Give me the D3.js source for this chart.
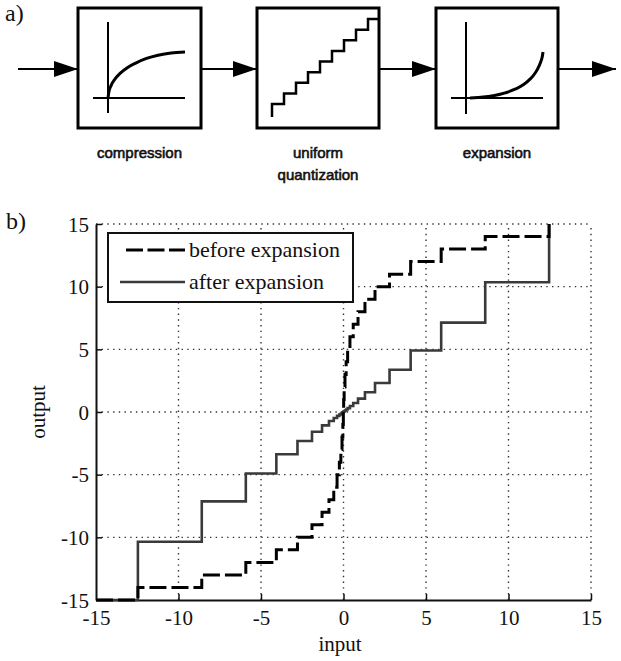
<!DOCTYPE html>
<html>
<head>
<meta charset="utf-8">
<script src="https://cdn.jsdelivr.net/npm/d3@7"></script>
<style>
  html, body { margin: 0; padding: 0; background: #fff; }
  svg { display: block; }
  .serif { font-family: "Liberation Serif", "Times New Roman", serif; fill: #111; }
  .sans { font-family: "Liberation Sans", Arial, sans-serif; fill: #111; }
</style>
</head>
<body>
<svg id="fig" width="621" height="661"></svg>
<script>
// ---- part b) data: mu-law companded quantizer, input vs output ----
const xTicks = [-15, -10, -5, 0, 5, 10, 15];
const yTicks = [-15, -10, -5, 0, 5, 10, 15];
// input value where each output step begins
const stepInput = [-15, -12.46, -8.59, -5.92, -4.07, -2.79, -1.91, -1.30, -0.88, -0.59,
  -0.39, -0.25, -0.16, -0.09, -0.04, -0.01, 0.01, 0.04, 0.09, 0.16,
  0.25, 0.39, 0.59, 0.88, 1.30, 1.91, 2.79, 4.07, 5.92, 8.59, 12.46];
// quantized (compressed) level on each step
const beforeExpansion = [-15, -14, -13, -12, -11, -10, -9, -8, -7, -6,
  -5, -4, -3, -2, -1, 0, 1, 2, 3, 4,
  5, 6, 7, 8, 9, 10, 11, 12, 13, 14, 15];
// same levels after the expander
const afterExpansion = [-15, -10.35, -7.13, -4.91, -3.37, -2.31, -1.58, -1.07, -0.72, -0.48,
  -0.31, -0.20, -0.12, -0.06, -0.03, 0, 0.03, 0.06, 0.12, 0.20,
  0.31, 0.48, 0.72, 1.07, 1.58, 2.31, 3.37, 4.91, 7.13, 10.35, 15];
const seriesNames = ["before expansion", "after expansion"];

// ---- part a) block diagram ----
const blockLabels = [["compression"], ["uniform", "quantization"], ["expansion"]];
// normalised icon curves (0..1 in each direction)
const compressIcon = [[0, 0], [0.01, 0.12], [0.04, 0.27], [0.09, 0.41], [0.16, 0.54], [0.25, 0.66],
  [0.36, 0.76], [0.5, 0.86], [0.65, 0.93], [0.82, 0.98], [1, 1]];
const expandIcon = [[0, 0], [0.18, 0.02], [0.35, 0.06], [0.5, 0.12], [0.63, 0.2], [0.74, 0.3],
  [0.83, 0.42], [0.9, 0.56], [0.95, 0.71], [0.985, 0.86], [1, 1]];
const stairLevels = [0, 1, 2, 3, 4, 5, 6, 7, 8];

const svg = d3.select("#fig");

// ================= a) =================
svg.append("text").attr("class", "serif").attr("x", 5).attr("y", 21)
  .style("font-size", "24px").text("a)");

const arrowY = 69;
const boxes = [{ x0: 78, x1: 201 }, { x0: 257, x1: 379 }, { x0: 436, x1: 558 }];
const boxTop = 8, boxBot = 128;

const defs = svg.append("defs");
defs.append("marker").attr("id", "head").attr("viewBox", "0 0 24 16")
  .attr("refX", 24).attr("refY", 8).attr("markerWidth", 24).attr("markerHeight", 16)
  .attr("markerUnits", "userSpaceOnUse").attr("orient", "auto")
  .append("path").attr("d", "M0,0 L24,8 L0,16 Z").attr("fill", "#000");

const arrows = [[18, boxes[0].x0], [boxes[0].x1, boxes[1].x0], [boxes[1].x1, boxes[2].x0], [boxes[2].x1, 616]];
svg.selectAll("line.arrow").data(arrows).join("line").attr("class", "arrow")
  .attr("x1", d => d[0]).attr("x2", d => d[1]).attr("y1", arrowY).attr("y2", arrowY)
  .attr("stroke", "#000").attr("stroke-width", 2).attr("marker-end", "url(#head)");

svg.selectAll("rect.block").data(boxes).join("rect").attr("class", "block")
  .attr("x", d => d.x0).attr("y", boxTop).attr("width", d => d.x1 - d.x0).attr("height", boxBot - boxTop)
  .attr("fill", "#fff").attr("stroke", "#000").attr("stroke-width", 3);

// compression icon
{
  const b = boxes[0];
  const ax = b.x0 + 30, ay = 98;
  svg.append("line").attr("x1", ax).attr("x2", ax).attr("y1", 22).attr("y2", 113).attr("stroke", "#000").attr("stroke-width", 2);
  svg.append("line").attr("x1", b.x0 + 15).attr("x2", b.x0 + 107).attr("y1", ay).attr("y2", ay).attr("stroke", "#000").attr("stroke-width", 2);
  const sx = d3.scaleLinear().domain([0, 1]).range([ax, b.x0 + 107]);
  const sy = d3.scaleLinear().domain([0, 1]).range([ay, 52]);
  svg.append("path").datum(compressIcon)
    .attr("d", d3.line().x(d => sx(d[0])).y(d => sy(d[1])).curve(d3.curveMonotoneX))
    .attr("fill", "none").attr("stroke", "#000").attr("stroke-width", 3);
}
// staircase icon
{
  const b = boxes[1];
  const sx = d3.scaleLinear().domain([0, 8]).range([b.x0 + 15, b.x0 + 111]);
  const sy = d3.scaleLinear().domain([0, 8]).range([104, 19]);
  const pts = [[0, -1]].concat(stairLevels.map(k => [k, k])).concat([[8.999, 8]]);
  svg.append("path").datum(pts)
    .attr("d", d3.line().x(d => sx(d[0])).y(d => d[1] < 0 ? 117 : sy(d[1])).curve(d3.curveStepAfter))
    .attr("fill", "none").attr("stroke", "#000").attr("stroke-width", 2.5);
}
// expansion icon
{
  const b = boxes[2];
  const ax = b.x0 + 30, ay = 98;
  svg.append("line").attr("x1", ax).attr("x2", ax).attr("y1", 22).attr("y2", 114).attr("stroke", "#000").attr("stroke-width", 2);
  svg.append("line").attr("x1", b.x0 + 15).attr("x2", b.x0 + 107).attr("y1", ay).attr("y2", ay).attr("stroke", "#000").attr("stroke-width", 2);
  const sx = d3.scaleLinear().domain([0, 1]).range([ax + 4, b.x0 + 107]);
  const sy = d3.scaleLinear().domain([0, 1]).range([ay, 52]);
  svg.append("path").datum(expandIcon)
    .attr("d", d3.line().x(d => sx(d[0])).y(d => sy(d[1])).curve(d3.curveMonotoneY))
    .attr("fill", "none").attr("stroke", "#000").attr("stroke-width", 3);
}

blockLabels.forEach((lines, i) => {
  const cx = (boxes[i].x0 + boxes[i].x1) / 2;
  const base = lines.length > 1 ? 158 : 158;
  lines.forEach((t, j) => {
    svg.append("text").attr("class", "sans").attr("x", cx).attr("y", base + j * 22)
      .attr("text-anchor", "middle").style("font-size", "15px")
      .attr("stroke", "#111").attr("stroke-width", 0.6).text(t);
  });
});

// ================= b) =================
svg.append("text").attr("class", "serif").attr("x", 6).attr("y", 229)
  .style("font-size", "24px").text("b)");

const plot = { left: 96, right: 591, top: 224, bottom: 600 };
const x = d3.scaleLinear().domain([-15, 15]).range([plot.left, plot.right]);
const y = d3.scaleLinear().domain([-15, 15]).range([plot.bottom, plot.top]);

// dotted grid
const grid = svg.append("g").attr("stroke", "#333").attr("stroke-width", 1.4)
  .attr("stroke-dasharray", "1.4,4.3");
grid.selectAll("line.gx").data(xTicks.slice(1)).join("line").attr("class", "gx")
  .attr("x1", d => x(d)).attr("x2", d => x(d)).attr("y1", plot.bottom).attr("y2", plot.top);
grid.selectAll("line.gy").data(yTicks.slice(1)).join("line").attr("class", "gy")
  .attr("y1", d => y(d)).attr("y2", d => y(d)).attr("x1", plot.left).attr("x2", plot.right);

// axes with inward ticks; labels use a plain hyphen for negatives
const tickText = d => String(d);
const xAxis = svg.append("g").attr("transform", `translate(0,${plot.bottom})`)
  .call(d3.axisBottom(x).tickValues(xTicks).tickSize(-6).tickPadding(10).tickSizeOuter(0)
    .tickFormat(tickText));
const yAxis = svg.append("g").attr("transform", `translate(${plot.left},0)`)
  .call(d3.axisLeft(y).tickValues(yTicks).tickSize(-6).tickPadding(7).tickSizeOuter(0)
    .tickFormat(tickText));
[xAxis, yAxis].forEach(g => {
  g.select(".domain").attr("stroke", "#111").attr("stroke-width", 2);
  g.selectAll(".tick line").attr("stroke", "#111").attr("stroke-width", 1.5);
  g.selectAll(".tick text").attr("class", "serif").style("font-size", "21px").attr("fill", "#111");
});
yAxis.selectAll(".tick text").attr("dy", "0.34em");
// no inward tick marks at the far corner
xAxis.selectAll(".tick").filter(d => d === -15).select("line").remove();
yAxis.selectAll(".tick").filter(d => d === -15).select("line").remove();

// data lines
const stepLine = vals => d3.line().x((d, i) => x(stepInput[i])).y(d => y(d)).curve(d3.curveStepAfter)(vals);
svg.append("path").attr("d", stepLine(afterExpansion))
  .attr("fill", "none").attr("stroke", "#3a3a3a").attr("stroke-width", 2.6);
svg.append("path").attr("d", stepLine(beforeExpansion))
  .attr("fill", "none").attr("stroke", "#000").attr("stroke-width", 3)
  .attr("stroke-dasharray", "17,5");

// axis titles
svg.append("text").attr("class", "serif").attr("x", 340).attr("y", 651)
  .attr("text-anchor", "middle").style("font-size", "21px").text("input");
svg.append("text").attr("class", "serif").attr("transform", "translate(45,412) rotate(-90)")
  .attr("text-anchor", "middle").style("font-size", "21px").text("output");

// legend
const lg = svg.append("g");
lg.append("rect").attr("x", 108).attr("y", 233).attr("width", 245).attr("height", 69)
  .attr("fill", "#fff").attr("stroke", "#111").attr("stroke-width", 2);
const legendRows = [
  { name: seriesNames[0], y: 250, dash: "17,4.5", color: "#000", w: 3, x0: 126 },
  { name: seriesNames[1], y: 282, dash: null, color: "#3a3a3a", w: 2.6, x0: 120 }
];
legendRows.forEach(r => {
  lg.append("line").attr("x1", r.x0).attr("x2", 185).attr("y1", r.y).attr("y2", r.y)
    .attr("stroke", r.color).attr("stroke-width", r.w).attr("stroke-dasharray", r.dash);
  lg.append("text").attr("class", "serif").attr("x", 189).attr("y", r.y + 7)
    .style("font-size", "22px").text(r.name);
});
</script>
</body>
</html>
